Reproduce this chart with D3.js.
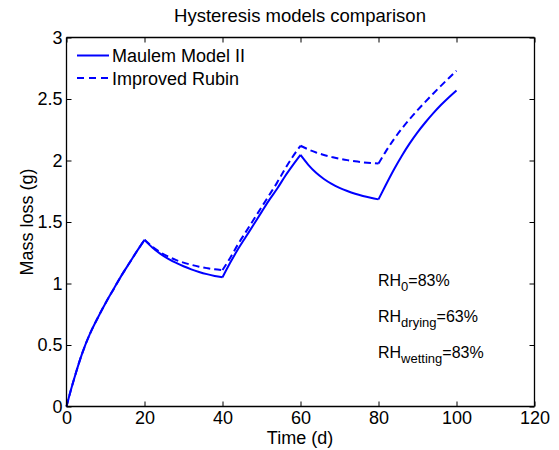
<!DOCTYPE html>
<html><head><meta charset="utf-8">
<script src="https://cdn.jsdelivr.net/npm/d3@7"></script>
<style>body{margin:0;background:#fff;} svg text{font-family:"Liberation Sans",Arial,sans-serif;fill:#000;}</style>
</head><body>
<svg id="c" width="559" height="450"></svg>
<script>
const title = "Hysteresis models comparison";
const xLabel = "Time (d)";
const yLabel = "Mass loss (g)";
const seriesNames = ["Maulem Model II", "Improved Rubin"];
const xTicks = [0, 20, 40, 60, 80, 100, 120];
const yTicks = [0, 0.5, 1, 1.5, 2, 2.5, 3];
const phaseBreaks = [0, 20, 40, 60, 80, 100];
const time = [0,1,2,4,6,8,10,12,14,16,18,20,22,24,26,28,30,32,34,36,38,40,42,44,46,48,50,52,54,56,58,60,62,64,66,68,70,72,74,76,78,80,82,84,86,88,90,92,94,96,98,100];
const maulem = [0,0.12,0.23,0.43,0.59,0.72,0.84,0.95,1.06,1.16,1.26,1.355,
  1.293,1.243,1.203,1.169,1.14,1.115,1.094,1.076,1.061,1.05,
  1.17,1.28,1.38,1.48,1.58,1.68,1.77,1.87,1.96,2.045,
  1.965,1.90,1.85,1.81,1.778,1.752,1.73,1.712,1.697,1.684,
  1.809,1.929,2.039,2.139,2.229,2.309,2.383,2.451,2.513,2.57];
const rubin = [0,0.12,0.23,0.43,0.59,0.72,0.84,0.95,1.06,1.16,1.26,1.355,
  1.30,1.255,1.22,1.192,1.17,1.152,1.137,1.125,1.115,1.11,
  1.21,1.32,1.42,1.52,1.62,1.72,1.82,1.93,2.03,2.12,
  2.09,2.065,2.045,2.029,2.015,2.003,1.993,1.985,1.979,1.975,
  2.08,2.175,2.26,2.337,2.409,2.477,2.543,2.607,2.669,2.73];
const notes = [["RH","0","=83%"],["RH","drying","=63%"],["RH","wetting","=83%"]];

const svg = d3.select("#c");
const L = 66.5, R = 534.5, T = 37.5, B = 406.5;
const x = d3.scaleLinear().domain([0,120]).range([L,R]);
const y = d3.scaleLinear().domain([0,3]).range([B,T]);
const blue = "#0000ff";

const line = d3.line().x(d=>x(d[0])).y(d=>y(d[1])).curve(d3.curveMonotoneX);
function pathFor(vals){
  let d = "";
  for (let k=0;k<phaseBreaks.length-1;k++){
    const pts = time.map((t,i)=>[t,vals[i]]).filter(p=>p[0]>=phaseBreaks[k] && p[0]<=phaseBreaks[k+1]);
    d += line(pts);
  }
  return d;
}
svg.append("path").attr("d", pathFor(maulem)).attr("fill","none").attr("stroke",blue).attr("stroke-width",2).attr("stroke-linejoin","round");
svg.append("path").attr("d", pathFor(rubin)).attr("fill","none").attr("stroke",blue).attr("stroke-width",2).attr("stroke-dasharray","7,4");

const fs = "18px";
const ax = svg.append("g").attr("transform",`translate(0,${B})`).call(d3.axisBottom(x).tickValues(xTicks).tickSize(-5).tickPadding(5).tickFormat(d3.format("d")));
const axT = svg.append("g").attr("transform",`translate(0,${T})`).call(d3.axisTop(x).tickValues(xTicks).tickSize(-5).tickFormat(""));
const ay = svg.append("g").attr("transform",`translate(${L},0)`).call(d3.axisLeft(y).tickValues(yTicks).tickSize(-5).tickPadding(4).tickFormat(d=>String(d)));
const ayR = svg.append("g").attr("transform",`translate(${R},0)`).call(d3.axisRight(y).tickValues(yTicks).tickSize(-5).tickFormat(""));
[ax,axT,ay,ayR].forEach(g=>{
  g.select(".domain").attr("stroke","#000").attr("stroke-width",1.3);
  g.selectAll(".tick line").attr("stroke","#000");
  g.selectAll(".tick text").attr("fill","#000").style("font-size",fs).style("font-family","Liberation Sans, Arial, sans-serif");
});
ax.select(".domain").attr("d",`M${L},0H${R}`);
axT.select(".domain").attr("d",`M${L},0H${R}`);
ay.select(".domain").attr("d",`M0,${T}V${B}`);
ayR.select(".domain").attr("d",`M0,${T}V${B}`);

svg.append("text").attr("x",300).attr("y",22).attr("text-anchor","middle").style("font-size","18.5px").text(title);
svg.append("text").attr("x",300).attr("y",444).attr("text-anchor","middle").style("font-size",fs).text(xLabel);
svg.append("text").attr("transform","translate(33,222) rotate(-90)").attr("text-anchor","middle").style("font-size",fs).text(yLabel);

const leg = svg.append("g");
seriesNames.forEach((n,i)=>{
  const yy = 55.5 + i*22.5;
  leg.append("line").attr("x1",77).attr("x2",109).attr("y1",yy).attr("y2",yy).attr("stroke",blue).attr("stroke-width",2)
    .attr("stroke-dasharray", i===1 ? "7,5" : null);
  leg.append("text").attr("x",112).attr("y",yy+6.5).style("font-size",fs).text(n);
});

notes.forEach((n,i)=>{
  const t = svg.append("text").attr("x",378).attr("y",285.5 + i*36).style("font-size","16px");
  t.append("tspan").text(n[0]);
  t.append("tspan").attr("dy",5).style("font-size","13px").text(n[1]);
  t.append("tspan").attr("dy",-5).text(n[2]);
});
</script>
</body></html>
